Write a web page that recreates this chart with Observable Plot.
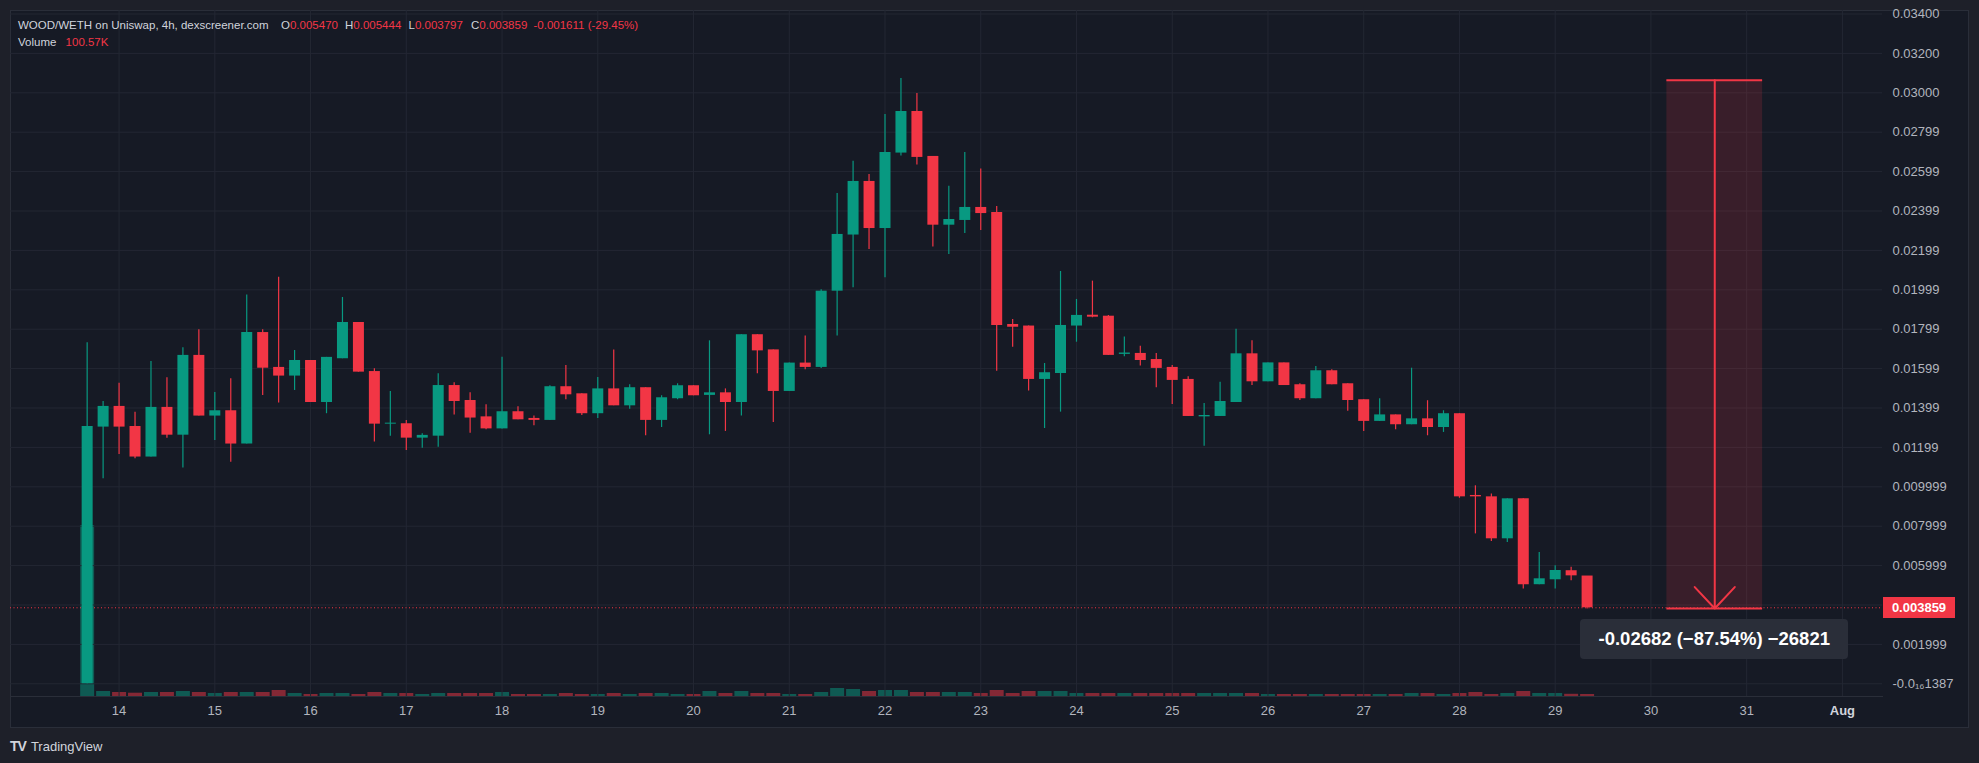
<!DOCTYPE html>
<html><head><meta charset="utf-8">
<script src="https://cdn.jsdelivr.net/npm/d3@7"></script>
<script src="https://cdn.jsdelivr.net/npm/@observablehq/plot@0.6"></script>
<style>
html,body{margin:0;padding:0;background:#1e2029;}
#wrap{position:relative;width:1979px;height:763px;overflow:hidden;background:#1e2029;font-family:"Liberation Sans",Arial,sans-serif;}
#pane{position:absolute;left:10px;top:10px;width:1959px;height:718px;box-sizing:border-box;background:#161a25;border:1px solid #2a2e39;}
.layer{position:absolute;left:0;top:0;}
.hdr{position:absolute;font-size:11.5px;line-height:11.5px;color:#d1d4dc;white-space:nowrap;}
.red{color:#f23645;}
#tag{position:absolute;left:1883px;width:72px;height:21px;background:#f23645;color:#fff;font-size:13px;font-weight:bold;line-height:21px;text-align:center;}
#mlabel{position:absolute;width:268px;height:40px;background:#2a2e39;border-radius:4px;color:#fff;font-size:18.5px;font-weight:bold;line-height:40px;text-align:center;white-space:nowrap;}
#logo{position:absolute;left:10px;top:739px;font-size:13px;color:#d1d4dc;white-space:nowrap;line-height:14px;}
#logo b{font-weight:900;font-size:14px;letter-spacing:-1px;margin-right:5px;}
</style></head><body>
<div id="wrap"><div id="pane"></div></div>
<script>
// ---- data ----
const firstCandle = "2024-07-13T16:00Z";
const lastCandle = "2024-07-29T08:00Z";
const open = [
0.000001,0.01303,0.01408,0.01306,0.01151,0.01403,0.01262,0.01667,0.01359,0.01386,
0.01217,0.01783,0.01606,0.01562,0.01641,0.01428,0.01650,0.01834,0.01585,0.01318,
0.01320,0.01247,0.01257,0.01514,0.01438,0.01355,0.01294,0.01381,0.01347,0.01337,
0.01508,0.01472,0.01371,0.01497,0.01411,0.01503,0.01337,0.01447,0.01513,0.01464,
0.01477,0.01428,0.01772,0.01695,0.01484,0.01628,0.01606,0.01993,0.02278,0.02550,
0.02311,0.02694,0.02905,0.02677,0.02328,0.02352,0.02418,0.02393,0.01824,0.01816,
0.01545,0.01575,0.01816,0.01871,0.01866,0.01672,0.01677,0.01646,0.01606,0.01545,
0.01355,0.01357,0.01428,0.01675,0.01533,0.01629,0.01518,0.01447,0.01589,0.01523,
0.01442,0.01332,0.01365,0.01315,0.01345,0.01301,0.01371,0.00956,0.00949,0.00736,
0.00939,0.00503,0.00528,0.00574,0.005470];
const high = [
0.01731,0.01433,0.01526,0.01379,0.01636,0.01553,0.01706,0.01797,0.01479,0.01548,
0.01973,0.01797,0.02064,0.01692,0.01641,0.01657,0.01961,0.01834,0.01599,0.01484,
0.01337,0.01269,0.01574,0.01528,0.01477,0.01416,0.01657,0.01406,0.01360,0.01513,
0.01616,0.01472,0.01555,0.01695,0.01518,0.01503,0.01462,0.01523,0.01513,0.01741,
0.01497,0.01772,0.01772,0.01695,0.01628,0.01766,0.02000,0.02489,0.02653,0.02585,
0.02890,0.03073,0.02997,0.02677,0.02526,0.02697,0.02613,0.02423,0.01849,0.01816,
0.01626,0.02093,0.01951,0.02044,0.01870,0.01760,0.01714,0.01677,0.01616,0.01558,
0.01423,0.01531,0.01800,0.01741,0.01629,0.01629,0.01523,0.01611,0.01594,0.01523,
0.01442,0.01447,0.01365,0.01602,0.01437,0.01386,0.01371,0.01005,0.00964,0.00939,
0.00939,0.00667,0.00599,0.00591,0.005444];
const low = [
0.000001,0.01041,0.01164,0.01142,0.01151,0.01247,0.01095,0.01359,0.01235,0.01125,
0.01217,0.01464,0.01425,0.01489,0.01428,0.01371,0.01650,0.01582,0.01227,0.01256,
0.01184,0.01196,0.01201,0.01365,0.01272,0.01289,0.01294,0.01340,0.01310,0.01337,
0.01442,0.01362,0.01347,0.01411,0.01394,0.01259,0.01301,0.01442,0.01462,0.01264,
0.01281,0.01360,0.01574,0.01327,0.01484,0.01594,0.01600,0.01765,0.02010,0.02205,
0.02061,0.02679,0.02633,0.02217,0.02179,0.02286,0.02301,0.01587,0.01709,0.01486,
0.01296,0.01379,0.01734,0.01858,0.01667,0.01660,0.01613,0.01503,0.01418,0.01357,
0.01206,0.01357,0.01428,0.01514,0.01533,0.01514,0.01438,0.01447,0.01518,0.01384,
0.01281,0.01332,0.01289,0.01315,0.01259,0.01276,0.00942,0.00761,0.00722,0.00717,
0.00481,0.00503,0.00481,0.00523,0.003797];
const close = [
0.01306,0.01408,0.01303,0.01151,0.01403,0.01262,0.01667,0.01359,0.01386,0.01217,
0.01783,0.01602,0.01562,0.01641,0.01428,0.01657,0.01834,0.01582,0.01318,0.01323,
0.01247,0.01261,0.01514,0.01433,0.01349,0.01294,0.01381,0.01340,0.01337,0.01508,
0.01467,0.01371,0.01497,0.01411,0.01503,0.01337,0.01452,0.01513,0.01462,0.01477,
0.01428,0.01772,0.01690,0.01484,0.01628,0.01606,0.01993,0.02281,0.02550,0.02311,
0.02697,0.02905,0.02672,0.02328,0.02357,0.02418,0.02387,0.01819,0.01810,0.01545,
0.01579,0.01819,0.01870,0.01861,0.01667,0.01679,0.01641,0.01601,0.01540,0.01357,
0.01362,0.01433,0.01675,0.01533,0.01629,0.01514,0.01447,0.01589,0.01518,0.01438,
0.01332,0.01365,0.01315,0.01345,0.01301,0.01371,0.00949,0.00949,0.00736,0.00939,
0.00503,0.00533,0.00575,0.00548,0.003859];
const volumeK = [
8550,250,200,165,200,200,250,200,150,200,
200,200,300,150,100,150,150,100,200,150,
150,100,150,150,150,150,200,100,100,100,
150,100,100,150,100,150,150,100,100,250,
150,250,150,150,100,100,200,400,350,250,
300,300,200,200,200,200,150,300,150,250,
250,250,150,150,150,150,150,150,150,150,
150,150,150,150,100,100,100,100,100,100,
100,100,100,150,150,100,150,200,100,150,
250,150,150,110,100.57];

const yTickValues = [0.034,0.032,0.030,0.028,0.026,0.024,0.022,0.020,0.018,0.016,0.014,0.012,0.010,0.008,0.006,0.004,0.002,0];
const yTickLabels = ["0.03400","0.03200","0.03000","0.02799","0.02599","0.02399","0.02199","0.01999","0.01799","0.01599","0.01399","0.01199","0.009999","0.007999","0.005999","","0.001999","-0.0\u2081\u20861387"];
const dayTickDates = ["2024-07-14","2024-07-15","2024-07-16","2024-07-17","2024-07-18","2024-07-19","2024-07-20","2024-07-21","2024-07-22","2024-07-23","2024-07-24","2024-07-25","2024-07-26","2024-07-27","2024-07-28","2024-07-29","2024-07-30","2024-07-31"];
const dayTickLabels = ["14","15","16","17","18","19","20","21","22","23","24","25","26","27","28","29","30","31"];
const monthTickDates = ["2024-08-01"];
const monthTickLabels = ["Aug"];

const legendTitle = "WOOD/WETH on Uniswap, 4h, dexscreener.com";
const legendKeys = ["O","H","L","C"];
const legendValues = ["0.005470","0.005444","0.003797","0.003859"];
const legendChange = "-0.001611 (-29.45%)";
const volumeLabel = "Volume";
const volumeValue = "100.57K";

const measure = {from:"2024-07-30T04:00Z", to:"2024-07-31T04:00Z", mid:"2024-07-30T16:00Z", top:0.03064, bottom:0.00382};
const measureText = "-0.02682 (\u221287.54%) \u221226821";
const lastPrice = 0.003859;

// ---- build ----
const GREEN = "#089981", RED = "#f23645", GRID = "#232733", TXT = "#b2b5be";
const times = d3.utcHour.every(4).range(new Date(firstCandle), d3.utcHour.offset(new Date(lastCandle), 1));
const candles = times.map((t, i) => ({t, open: open[i], high: high[i], low: low[i], close: close[i], volume: volumeK[i]}));
const up = candles.filter(d => d.close >= d.open);
const down = candles.filter(d => d.close < d.open);
const dayTicks = dayTickDates.map(s => new Date(s + "T00:00Z"));
const monthTicks = monthTickDates.map(s => new Date(s + "T00:00Z"));
const yLabel = new Map(yTickValues.map((v, i) => [v, yTickLabels[i]]));
const dLabel = new Map(dayTicks.map((d, i) => [+d, dayTickLabels[i]]));
const mLabel = new Map(monthTicks.map((d, i) => [+d, monthTickLabels[i]]));
const m = {from: new Date(measure.from), to: new Date(measure.to), mid: new Date(measure.mid), top: measure.top, bottom: measure.bottom};

const W = 1979, H = 763;
const xDomain = [new Date("2024-07-12T20:47Z"), new Date("2024-08-01T10:03Z")];
const common = {width: W, height: H, marginLeft: 10, marginRight: 97, marginBottom: 67,
  style: {background: "transparent", overflow: "visible", fontFamily: "'Liberation Sans', Arial, sans-serif"}};

const volPlot = Plot.plot({...common, marginTop: 525,
  x: {type: "utc", domain: xDomain, axis: null},
  y: {domain: [0, d3.max(volumeK)], axis: null},
  marks: [
    Plot.ruleX(up, {x: "t", y1: 0, y2: "volume", stroke: GREEN, strokeOpacity: 0.5, strokeWidth: 14}),
    Plot.ruleX(down, {x: "t", y1: 0, y2: "volume", stroke: RED, strokeOpacity: 0.5, strokeWidth: 14})
  ]
});

const mainPlot = Plot.plot({...common, marginTop: 10,
  x: {type: "utc", domain: xDomain},
  y: {domain: [-0.000645, 0.034178]},
  marks: [
    Plot.ruleY(yTickValues, {stroke: GRID}),
    Plot.ruleX(dayTicks.concat(monthTicks), {stroke: GRID}),
    Plot.rect([m], {x1: "from", x2: "to", y1: "bottom", y2: "top", fill: RED, fillOpacity: 0.16}),
    Plot.ruleY([lastPrice], {stroke: RED, strokeDasharray: "1,2.5"}),
    Plot.ruleX(up, {x: "t", y1: "low", y2: "high", stroke: GREEN, strokeWidth: 1.2}),
    Plot.ruleX(down, {x: "t", y1: "low", y2: "high", stroke: RED, strokeWidth: 1.2}),
    Plot.ruleX(up, {x: "t", y1: "open", y2: "close", stroke: GREEN, strokeWidth: 11}),
    Plot.ruleX(down, {x: "t", y1: "open", y2: "close", stroke: RED, strokeWidth: 11}),
    Plot.ruleY([m], {y: "top", x1: "from", x2: "to", stroke: RED, strokeWidth: 2}),
    Plot.ruleY([m], {y: "bottom", x1: "from", x2: "to", stroke: RED, strokeWidth: 2}),
    Plot.arrow([m], {x1: "mid", x2: "mid", y1: "top", y2: "bottom", stroke: RED, strokeWidth: 2, headAngle: 86, headLength: 22}),
    Plot.frame({anchor: "bottom", stroke: "#2a2e39"}),
    Plot.axisY(yTickValues, {anchor: "right", tickSize: 0, tickPadding: 10, tickFormat: d => yLabel.get(d), fill: TXT, fontSize: 13, label: null}),
    Plot.axisX(dayTicks, {anchor: "bottom", tickSize: 0, tickPadding: 9, tickFormat: d => dLabel.get(+d), fill: TXT, fontSize: 13, label: null}),
    Plot.axisX(monthTicks, {anchor: "bottom", tickSize: 0, tickPadding: 9, tickFormat: d => mLabel.get(+d), fill: "#d1d4dc", fontSize: 13, fontWeight: "bold", label: null})
  ]
});

const wrap = document.getElementById("wrap");
volPlot.classList.add("layer"); mainPlot.classList.add("layer");
volPlot.style.position = "absolute"; mainPlot.style.position = "absolute";
wrap.appendChild(volPlot); wrap.appendChild(mainPlot);

const xs = mainPlot.scale("x"), ys = mainPlot.scale("y");

function addDiv(cls, id, html, left, top) {
  const el = document.createElement("div");
  if (cls) el.className = cls;
  if (id) el.id = id;
  el.innerHTML = html;
  el.style.left = left + "px"; el.style.top = top + "px";
  wrap.appendChild(el);
  return el;
}
// legend
addDiv("hdr", null, legendTitle, 18, 20);
const keyX = [281, 345, 408.5, 471];
legendKeys.forEach((k, i) => addDiv("hdr", null, k + '<span class="red">' + legendValues[i] + '</span>', keyX[i], 20));
addDiv("hdr red", null, legendChange, 533.5, 20);
addDiv("hdr", null, volumeLabel, 18, 37);
addDiv("hdr red", null, volumeValue, 65.6, 37);
// last price tag
const tag = addDiv(null, "tag", lastPrice.toFixed(6), 1883, ys.apply(lastPrice) - 10.5);
// measurement label
const ml = addDiv(null, "mlabel", measureText, xs.apply(m.mid) - 134, ys.apply(m.bottom) + 11);
// logo
addDiv(null, "logo", "<b>TV</b>TradingView", 10, 739);
</script></body></html>
